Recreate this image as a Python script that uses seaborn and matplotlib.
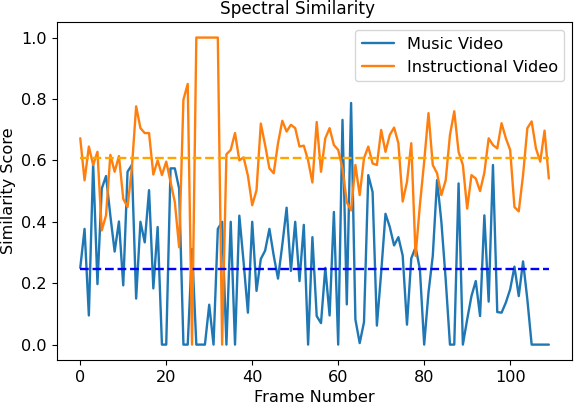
import numpy as np
import pandas as pd
import matplotlib
matplotlib.use("Agg")
import matplotlib.pyplot as plt
import seaborn as sns

music = [0.25, 0.377, 0.095, 0.59, 0.197, 0.508, 0.549, 0.42, 0.303, 0.401,
         0.193, 0.563, 0.585, 0.15, 0.40, 0.333, 0.503, 0.183, 0.383, 0.0,
         0.0, 0.574, 0.574, 0.508, 0.0, 0.0, 0.311, 0.0, 0.0, 0.0,
         0.13, 0.0, 0.377, 0.40, 0.0, 0.40, 0.0, 0.42, 0.268, 0.104,
         0.40, 0.175, 0.279, 0.306, 0.377, 0.29, 0.215, 0.325, 0.446, 0.24,
         0.40, 0.207, 0.39, 0.0, 0.35, 0.093, 0.07, 0.25, 0.095, 0.432,
         0.0, 0.732, 0.131, 0.787, 0.082, 0.005, 0.073, 0.552, 0.497, 0.062,
         0.235, 0.426, 0.383, 0.323, 0.35, 0.29, 0.065, 0.281, 0.317, 0.246,
         0.0, 0.169, 0.289, 0.536, 0.40, 0.213, 0.0, 0.0, 0.525, 0.0,
         0.082, 0.158, 0.207, 0.093, 0.421, 0.14, 0.585, 0.106, 0.104, 0.137,
         0.18, 0.254, 0.158, 0.271, 0.147, 0.0, 0.0, 0.0, 0.0, 0.0]

instructional = [0.672, 0.535, 0.645, 0.585, 0.628, 0.372, 0.421, 0.618, 0.563, 0.614,
                 0.475, 0.448, 0.574, 0.776, 0.705, 0.689, 0.689, 0.554, 0.60, 0.552,
                 0.596, 0.53, 0.464, 0.317, 0.798, 0.849, 0.0, 1.0, 1.0, 1.0,
                 1.0, 1.0, 1.0, 0.0, 0.62, 0.634, 0.689, 0.60, 0.61, 0.55,
                 0.454, 0.503, 0.72, 0.65, 0.574, 0.558, 0.656, 0.729, 0.694, 0.716,
                 0.705, 0.645, 0.648, 0.60, 0.528, 0.725, 0.563, 0.672, 0.705, 0.65,
                 0.634, 0.574, 0.464, 0.437, 0.585, 0.487, 0.607, 0.645, 0.59, 0.585,
                 0.699, 0.628, 0.683, 0.707, 0.656, 0.466, 0.53, 0.656, 0.289, 0.454,
                 0.596, 0.754, 0.585, 0.558, 0.487, 0.535, 0.683, 0.76, 0.628, 0.585,
                 0.443, 0.552, 0.541, 0.50, 0.56, 0.672, 0.65, 0.639, 0.721, 0.672,
                 0.634, 0.448, 0.434, 0.552, 0.705, 0.727, 0.639, 0.596, 0.697, 0.541]

series_names = ["Music Video", "Instructional Video"]
music_mean = 0.247
instructional_mean = 0.609

frames = np.arange(len(music))

df = pd.DataFrame({
    "Frame Number": np.concatenate([frames, frames]),
    "Similarity Score": np.concatenate([music, instructional]),
    "Video": [series_names[0]] * len(music) + [series_names[1]] * len(instructional),
})

sns.set_style("ticks", rc={
    "axes.edgecolor": "black",
    "xtick.color": "black",
    "ytick.color": "black",
    "text.color": "black",
    "axes.labelcolor": "black",
})
plt.rcParams["font.family"] = ["DejaVu Sans"]

FS = 11.6

fig, ax = plt.subplots(figsize=(5.74, 4.04), dpi=100)
fig.subplots_adjust(left=0.099, right=0.997, top=0.945, bottom=0.109)

sns.lineplot(data=df, x="Frame Number", y="Similarity Score", hue="Video",
             palette=["#1f77b4", "#ff7f0e"], linewidth=1.7, ax=ax)

ax.hlines(music_mean, frames[0], frames[-1], colors="blue", linestyles="--", linewidth=1.7)
ax.hlines(instructional_mean, frames[0], frames[-1], colors="orange", linestyles="--", linewidth=1.7)

ax.set_title("Spectral Similarity", fontsize=12.2, x=0.466)
ax.set_xlabel("Frame Number", fontsize=FS)
ax.set_ylabel("Similarity Score", fontsize=FS)
ax.set_xticks([0, 20, 40, 60, 80, 100])
ax.set_yticks([0.0, 0.2, 0.4, 0.6, 0.8, 1.0])
ax.set_xlim(-5.45, 114.45)
ax.set_ylim(-0.05, 1.05)
ax.tick_params(labelsize=FS)
leg = ax.legend(loc="upper right", title=None, fontsize=FS, frameon=True)

fig.savefig("out.png", dpi=100)
